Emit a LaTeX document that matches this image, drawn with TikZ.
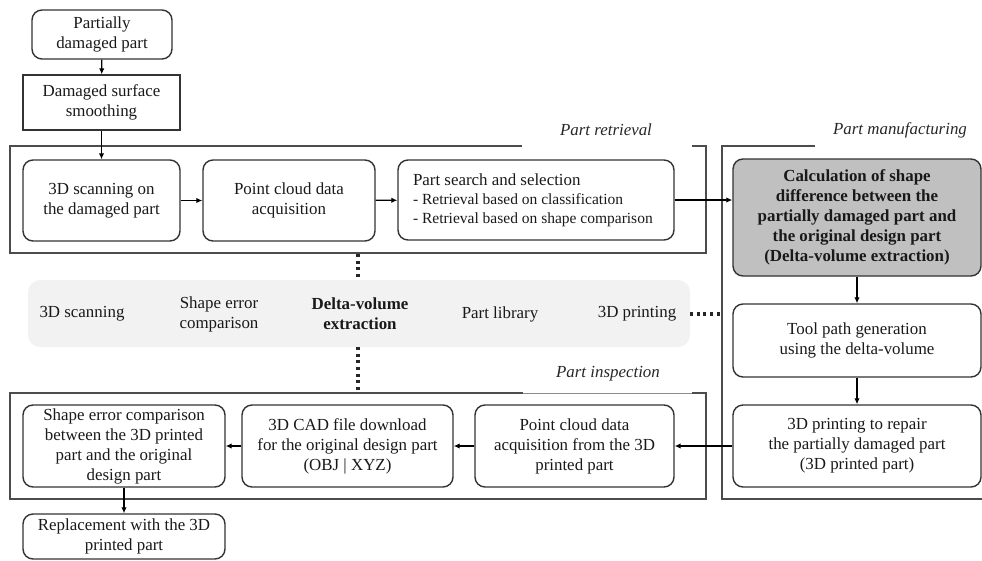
\documentclass[tikz,border=0pt]{standalone}
\usepackage{fontspec}
\setmainfont{Liberation Serif}
\usetikzlibrary{arrows.meta}
\definecolor{bandgray}{HTML}{F2F2F2}
\definecolor{boxgray}{HTML}{C0C0C0}
\begin{document}
\begin{tikzpicture}[x=1pt,y=-1pt,
  base/.style={draw=black!80, line width=1.4pt, align=center, inner sep=0pt,
    font=\fontsize{16.9}{20}\selectfont, text=black!90},
  rbox/.style={base, rounded corners=10pt},
  sbox/.style={base},
  frame/.style={draw=black!70, line width=1.4pt},
  lbl/.style={font=\fontsize{16.9}{20}\selectfont\itshape, text=black!85},
  conn/.style={draw=black, line width=1.3pt, -{Latex[length=6pt,width=5.5pt]}},
  dots/.style={draw=black!85, line width=3.2pt, dash pattern=on 3pt off 3.6pt},
  bandtxt/.style={font=\fontsize{16.9}{20}\selectfont, align=center, text=black!90}
]
\useasboundingbox (0,0) rectangle (982,560);

% frames
\draw[frame] (522,146) -- (10,146) -- (10,253) -- (706,253) -- (706,146) -- (692,146);
\draw[frame] (523,393) -- (10,393) -- (10,499) -- (706,499) -- (706,393) -- (692,393);
\draw[draw=black!45, line width=1pt] (523,393) -- (692,393);
\draw[frame] (815,146) -- (722,146) -- (722,499) -- (982,499);

% frame labels
\node[lbl] (lret) at (606,130) {Part retrieval};
\node[lbl] (lman) at (900,130) {Part manufacturing};
\node[lbl] (lins) at (608,374) {Part inspection};

% band
\node[fill=bandgray, rounded corners=12pt, minimum width=662pt, minimum height=67pt, inner sep=0pt] (band) at (359,313.5) {};
\node[bandtxt] (b1) at (82,314) {3D scanning};
\node[bandtxt] (b2) at (219,314) {Shape error\\comparison};
\node[bandtxt, font=\fontsize{16.9}{20}\selectfont\bfseries] (b3) at (360,314) {Delta-volume\\extraction};
\node[bandtxt] (b4) at (500,314) {Part library};
\node[bandtxt] (b5) at (637,314) {3D printing};

% top chain
\node[rbox, minimum width=140pt, minimum height=49pt] (p1) at (102,34.5) {Partially\\damaged part};
\node[sbox, minimum width=157pt, minimum height=55pt] (p2) at (101.5,102.5) {Damaged surface\\smoothing};

% retrieval
\node[rbox, minimum width=157pt, minimum height=81pt] (s1) at (101.5,200.5) {3D scanning on\\the damaged part};
\node[rbox, minimum width=172pt, minimum height=81pt] (s2) at (289,200.5) {Point cloud data\\acquisition};
\node[rbox, minimum width=276pt, minimum height=80pt, align=left] (s3) at (536,200) {%
  \begin{minipage}{246pt}\fontsize{16.9}{19}\selectfont Part search and selection\\
  {\fontsize{15.5}{19}\selectfont - Retrieval based on classification\\
  - Retrieval based on shape comparison}\end{minipage}};

% manufacturing
\node[rbox, fill=boxgray, minimum width=248pt, minimum height=117pt, font=\fontsize{16.9}{20}\selectfont\bfseries] (g) at (857,217.5)
  {Calculation of shape\\difference between the\\partially damaged part and\\the original design part\\(Delta-volume extraction)};
\node[rbox, minimum width=248pt, minimum height=73pt] (t) at (857,340.5) {Tool path generation\\using the delta-volume};
\node[rbox, minimum width=248pt, minimum height=82pt] (r) at (857,446) {3D printing to repair\\the partially damaged part\\(3D printed part)};

% inspection
\node[rbox, minimum width=199pt, minimum height=82pt] (i1) at (574.5,446) {Point cloud data\\acquisition from the 3D\\printed part};
\node[rbox, minimum width=211pt, minimum height=82pt] (i2) at (347.5,446) {3D CAD file download\\for the original design part\\(OBJ | XYZ)};
\node[rbox, minimum width=202pt, minimum height=82pt] (i3) at (124,446) {Shape error comparison\\between the 3D printed\\part and the original\\design part};
\node[rbox, minimum width=202pt, minimum height=45pt] (rep) at (124,536.5) {Replacement with the 3D\\printed part};

% connectors
\draw[conn] (p1) -- (p2);
\draw[conn] (p2) -- (s1);
\draw[conn] (s1) -- (s2);
\draw[conn] (s2) -- (s3);
\draw[conn] (s3.east) -- (s3.east -| g.west);
\draw[conn] (g) -- (t);
\draw[conn] (t) -- (r);
\draw[conn] (r) -- (i1);
\draw[conn] (i1) -- (i2);
\draw[conn] (i2) -- (i3);
\draw[conn] (i3) -- (rep);

% dotted links
\coordinate (rb) at (358,254);
\coordinate (ib) at (358,392);
\coordinate (mb) at (721,314);
\draw[dots] (rb) -- (rb |- band.north);
\draw[dots] (band.south -| ib) -- (ib);
\draw[dots] (band.east |- mb) -- (mb);
\end{tikzpicture}
\end{document}
